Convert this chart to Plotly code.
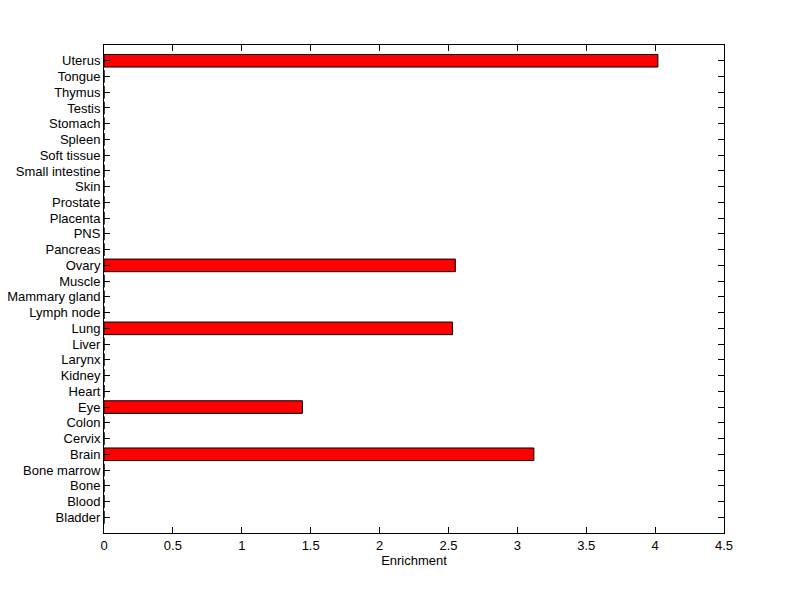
import plotly.graph_objects as go

tissues = ["Bladder", "Blood", "Bone", "Bone marrow", "Brain", "Cervix", "Colon", "Eye",
           "Heart", "Kidney", "Larynx", "Liver", "Lung", "Lymph node", "Mammary gland",
           "Muscle", "Ovary", "Pancreas", "PNS", "Placenta", "Prostate", "Skin",
           "Small intestine", "Soft tissue", "Spleen", "Stomach", "Testis", "Thymus",
           "Tongue", "Uterus"]
enrichment = [0, 0, 0, 0, 3.12, 0, 0, 1.44,
              0, 0, 0, 0, 2.53, 0, 0,
              0, 2.55, 0, 0, 0, 0, 0,
              0, 0, 0, 0, 0, 0,
              0, 4.02]
x_ticks = [0, 0.5, 1, 1.5, 2, 2.5, 3, 3.5, 4, 4.5]

fig = go.Figure(go.Bar(
    x=enrichment, y=tissues, orientation="h", width=0.8,
    marker=dict(color="#ff0000", line=dict(color="black", width=1)),
))

# page body has an 8px margin; compensate so the plot area lands at x 104-724, y 45-533
fig.update_layout(
    width=800, height=599,
    margin=dict(l=96, r=84, t=37, b=74),
    paper_bgcolor="white", plot_bgcolor="white",
    font=dict(family="Liberation Sans, Arial, sans-serif", size=13, color="black"),
    showlegend=False,
    bargap=0.2,
)
fig.update_xaxes(
    range=[0, 4.5], tickvals=x_ticks, ticktext=[f"{v:g}" for v in x_ticks],
    showgrid=False, zeroline=False, showline=True, linecolor="black", linewidth=1,
    mirror="ticks", ticks="inside", ticklen=6, tickcolor="black",
    title=dict(text="Enrichment", standoff=4, font=dict(size=13)),
    automargin=False,
)
fig.update_yaxes(
    type="category", categoryorder="array", categoryarray=tissues,
    tickmode="array", tickvals=tissues, ticktext=tissues,
    range=[-1, 30],
    showgrid=False, zeroline=False, showline=True, linecolor="black", linewidth=1,
    mirror="ticks", ticks="inside", ticklen=6, tickcolor="black",
    automargin=False,
)

fig.write_html("out.html")
